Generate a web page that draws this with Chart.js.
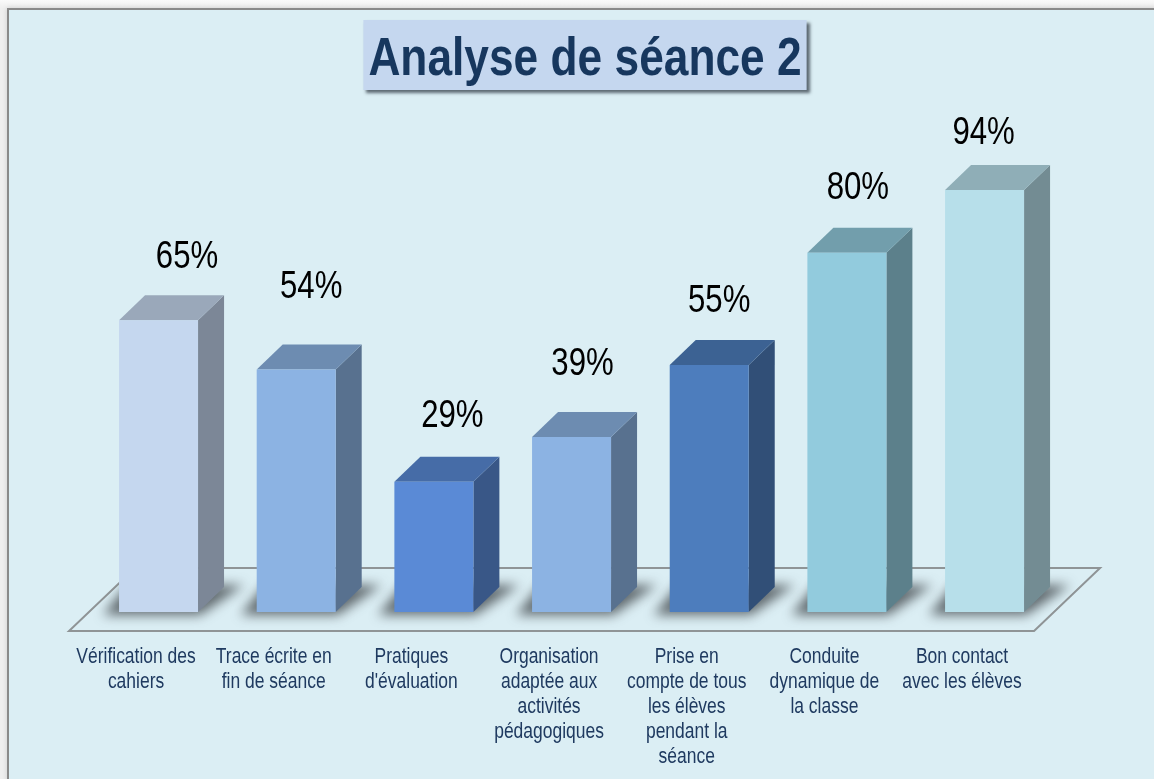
<!DOCTYPE html>
<html lang="fr">
<head>
<meta charset="utf-8">
<title>Analyse de séance 2</title>
<script src="https://cdn.jsdelivr.net/npm/chart.js@4/dist/chart.umd.min.js"></script>
<style>
html,body{margin:0;padding:0;width:1154px;height:779px;overflow:hidden;background:linear-gradient(#fafafa,#efefef 8px);}
#panel{position:absolute;left:7px;top:8px;width:1160px;height:790px;box-sizing:border-box;background:#dbeef4;border:2px solid #8a8a8a;box-shadow:0 0 5px rgba(0,0,0,.15);}
#wrap{position:absolute;left:0;top:0;width:1154px;height:779px;}
canvas{display:block;}
</style>
</head>
<body>
<div id="panel"></div>
<div id="wrap"><canvas id="c" width="1154" height="779"></canvas></div>
<script>
const chartTitle = "Analyse de séance 2";
const categories = [
  ["Vérification des","cahiers"],
  ["Trace écrite en","fin de séance"],
  ["Pratiques","d'évaluation"],
  ["Organisation","adaptée aux","activités","pédagogiques"],
  ["Prise en","compte de tous","les élèves","pendant la","séance"],
  ["Conduite","dynamique de","la classe"],
  ["Bon contact","avec les élèves"]
];
const values = [65,54,29,39,55,80,94];
const barColors = ["#c5d7ef","#8cb3e3","#5a8ad6","#8cb3e3","#4d7dbd","#92cbdd","#b7dfea"];
// hand-placed value labels in the reference: shift from each bar's top centre
const labelShiftX = [28.5,15,18.5,11,10,11,-1];
const labelShiftY = [-63,-82,-65,-72,-64,-64,-56];

const FONT = '"Liberation Sans",Arial,sans-serif';
const SQUEEZE = 0.82, DX = 26, DY = 25;

function shade(hex,f){
  const n=parseInt(hex.slice(1),16);
  return `rgb(${Math.round((n>>16&255)*f)},${Math.round((n>>8&255)*f)},${Math.round((n&255)*f)})`;
}
function poly(ctx,pts){
  ctx.beginPath();
  pts.forEach((p,i)=>i?ctx.lineTo(p[0],p[1]):ctx.moveTo(p[0],p[1]));
  ctx.closePath();
}

// The reference uses a condensed face: every text is squeezed horizontally around its anchor.
const canvas=document.getElementById('c');
const rawCtx=canvas.getContext('2d');
const protoFill=CanvasRenderingContext2D.prototype.fillText;
rawCtx.fillText=function(s,x,y,m){
  this.save();
  this.translate(x*(1-SQUEEZE),0);
  this.scale(SQUEEZE,1);
  m===undefined?protoFill.call(this,s,x,y):protoFill.call(this,s,x,y,m);
  this.restore();
};

const titleBox = {
  id:'titleBox',
  beforeDraw(chart){
    const ctx=chart.ctx, t=chart.titleBlock;
    ctx.save();
    ctx.font=`bold 54px ${FONT}`;
    const w=ctx.measureText(chartTitle).width*SQUEEZE+10;
    const cx=(t.left+t.right)/2;
    ctx.shadowColor='rgba(40,50,60,.7)';
    ctx.shadowOffsetX=3;ctx.shadowOffsetY=3;ctx.shadowBlur=3;
    ctx.fillStyle='#c5d7ef';
    ctx.fillRect(cx-w/2,20,w,70);
    ctx.restore();
  }
};

const bars3d = {
  id:'bars3d',
  beforeDatasetsDraw(chart){
    const ctx=chart.ctx, meta=chart.getDatasetMeta(0), base=chart.scales.y.getPixelForValue(0);
    const el0=meta.data[0], elN=meta.data[meta.data.length-1];
    const fl=el0.x-el0.width/2-50, fr=elN.x+elN.width/2+10;
    const fb=base+19, ft=base-44;
    const floor=[[fl,fb],[fr,fb],[fr+66,ft],[fl+66,ft]];
    ctx.save();
    poly(ctx,floor);
    ctx.strokeStyle='#8f9496';ctx.lineWidth=2;ctx.stroke();
    poly(ctx,floor);ctx.clip();
    ctx.filter='blur(6px)';
    ctx.fillStyle='rgba(50,55,60,.72)';
    meta.data.forEach(el=>{
      const l=el.x-el.width/2,r=el.x+el.width/2;
      poly(ctx,[[l-16,base+3],[r+2,base+3],[r+46,base-27],[l+8,base-27]]);
      ctx.fill();
    });
    ctx.restore();
    meta.data.forEach((el,i)=>{
      const l=el.x-el.width/2,r=el.x+el.width/2,top=el.y;
      ctx.fillStyle=shade(barColors[i],.63);
      poly(ctx,[[r,top],[r+DX,top-DY],[r+DX,base-DY],[r,base]]);ctx.fill();
      ctx.fillStyle=shade(barColors[i],.78);
      poly(ctx,[[l,top],[l+DX,top-DY],[r+DX,top-DY],[r,top]]);ctx.fill();
    });
  },
  afterDatasetsDraw(chart){
    const ctx=chart.ctx, meta=chart.getDatasetMeta(0);
    ctx.save();
    ctx.font=`38px ${FONT}`;
    ctx.fillStyle='#000';ctx.textAlign='center';ctx.textBaseline='middle';
    meta.data.forEach((el,i)=>ctx.fillText(values[i]+'%',el.x+labelShiftX[i],el.y+labelShiftY[i]));
    ctx.restore();
  }
};

const hiddenAxis=(pos,w)=>({position:pos,min:0,max:100,grid:{display:false},border:{display:false},
  ticks:{display:false},afterFit(s){s.width=w;}});

new Chart(canvas,{
  type:'bar',
  data:{labels:categories,datasets:[{data:values,backgroundColor:barColors,barPercentage:79/137.67,categoryPercentage:1,borderWidth:0}]},
  options:{
    responsive:false,animation:false,
    layout:{padding:{left:16,right:0,top:0,bottom:0}},
    plugins:{
      legend:{display:false},tooltip:{enabled:false},
      title:{display:true,text:chartTitle,color:'#17375e',
        font:{family:FONT,size:54,weight:'bold',lineHeight:70/54},
        padding:{top:25,bottom:68}}
    },
    scales:{
      x:{grid:{display:false},border:{display:false},afterFit(s){s.height=167;},
         ticks:{color:'#1f3a60',font:{family:FONT,size:21.3,lineHeight:25/21.3},padding:25,maxRotation:0,minRotation:0,autoSkip:false,labelOffset:-22.5}},
      y:hiddenAxis('left',73.7),
      y2:hiddenAxis('right',100.6)
    }
  },
  plugins:[titleBox,bars3d]
});
</script>
</body>
</html>
